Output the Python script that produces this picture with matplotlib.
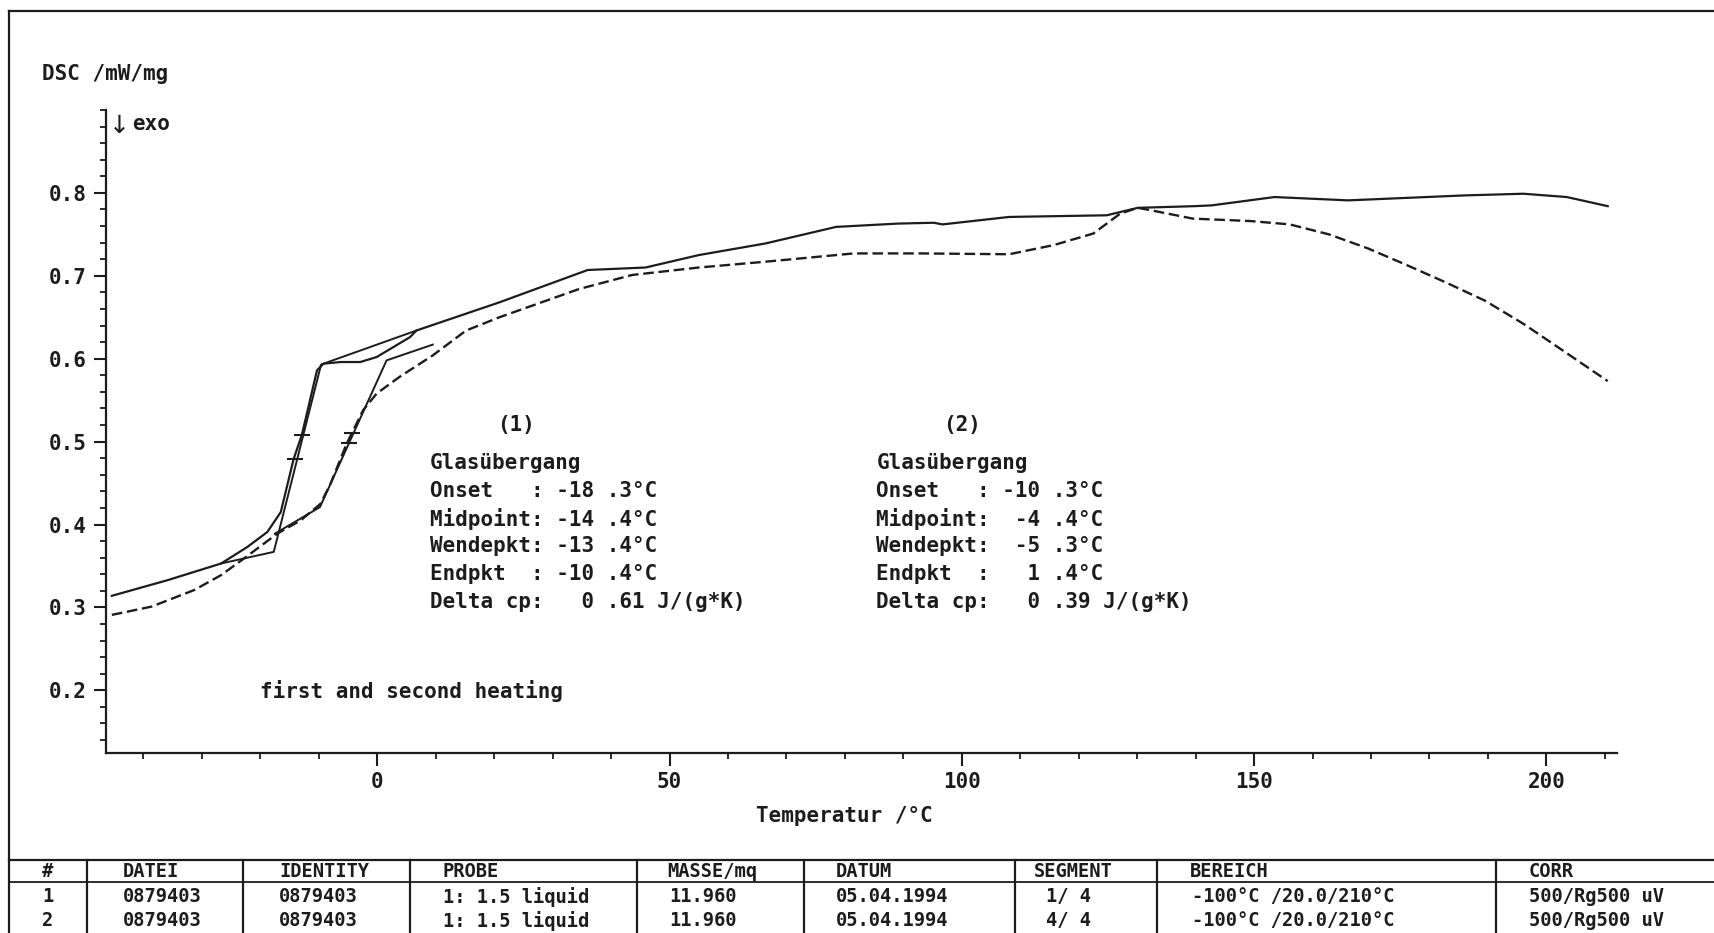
import matplotlib
matplotlib.use("Agg")
import matplotlib.pyplot as plt
from matplotlib.lines import Line2D
from matplotlib.ticker import MultipleLocator, FormatStrFormatter


# first heating (solid)
HEAT1_T = [-45.4, -35.8, -26.7, -22.2, -18.8, -16.5, -14.3, -12.9, -10.3, -9.2,
           -6.3, -2.9, -0.1, 5.6, 6.7, 20.9, 36.0, 45.9, 55.0, 66.4, 78.5,
           89.1, 95.2, 96.7, 108.1, 124.8, 130.1, 139.8, 142.8, 153.5, 166.1,
           186.1, 196.1, 203.5, 210.5]
HEAT1_DSC = [0.314, 0.333, 0.353, 0.373, 0.391, 0.415, 0.479, 0.508, 0.586, 0.594,
             0.596, 0.596, 0.602, 0.626, 0.634, 0.668, 0.707, 0.710, 0.725, 0.739,
             0.759, 0.763, 0.764, 0.762, 0.771, 0.773, 0.782, 0.784, 0.785, 0.795,
             0.791, 0.797, 0.799, 0.795, 0.784]

# second heating (dashed)
HEAT2_T = [-45.4, -38.6, -31.3, -26.7, -22.8, -17.1, -13.1, -9.7, -8.0, -5.2,
           -2.4, -0.1, 3.8, 9.5, 15.2, 20.9, 34.5, 43.6, 55.0, 66.4, 81.5,
           93.0, 108.1, 115.7, 122.5, 127.1, 130.1, 132.4, 139.5, 149.5, 156.1,
           162.8, 169.5, 176.1, 182.8, 189.5, 196.1, 202.8, 210.5]
HEAT2_DSC = [0.291, 0.301, 0.321, 0.339, 0.359, 0.389, 0.405, 0.425, 0.449, 0.498,
             0.538, 0.558, 0.578, 0.604, 0.634, 0.650, 0.684, 0.701, 0.710, 0.717,
             0.727, 0.727, 0.726, 0.737, 0.751, 0.775, 0.782, 0.779, 0.769, 0.766,
             0.762, 0.750, 0.733, 0.713, 0.692, 0.670, 0.642, 0.610, 0.573]

# glass transition construction lines
TAN1_T = [-26.7, -17.7, -9.6, 6.7]
TAN1_DSC = [0.353, 0.367, 0.593, 0.634]
TAN2_T = [-17.5, -9.8, 1.6, 9.5]
TAN2_DSC = [0.389, 0.421, 0.598, 0.617]

# midpoint / inflection marks
MARK_T = [-12.9, -14.0, -4.4, -4.8]
MARK_DSC = [0.508, 0.479, 0.510, 0.498]

RESULT1 = ["Glasübergang",
           "Onset   : -18 .3°C",
           "Midpoint: -14 .4°C",
           "Wendepkt: -13 .4°C",
           "Endpkt  : -10 .4°C",
           "Delta cp:   0 .61 J/(g*K)"]
RESULT2 = ["Glasübergang",
           "Onset   : -10 .3°C",
           "Midpoint:  -4 .4°C",
           "Wendepkt:  -5 .3°C",
           "Endpkt  :   1 .4°C",
           "Delta cp:   0 .39 J/(g*K)"]

HEADER = ["#", "DATEI", "IDENTITY", "PROBE", "MASSE/mq", "DATUM",
          "SEGMENT", "BEREICH", "CORR"]
ROW1 = ["1", "0879403", "0879403", "1: 1.5 liquid", "11.960", "05.04.1994",
        "1/ 4", "-100°C /20.0/210°C", "500/Rg500 uV"]
ROW2 = ["2", "0879403", "0879403", "1: 1.5 liquid", "11.960", "05.04.1994",
        "4/ 4", "-100°C /20.0/210°C", "500/Rg500 uV"]

# layout (figure pixels, 1715 x 933)
W, H = 1715, 933
COL_LINES = [87.5, 242.8, 410, 636.5, 804, 1015, 1157, 1496]
HEAD_X = [48, 122.5, 279, 443, 667, 835.6, 1033.5, 1190, 1529]
ROW_X = [48, 122.5, 279, 443, 669, 835.6, 1046, 1192, 1529]

INK = "#1c1c1c"
FONT = "DejaVu Sans Mono"
TXT = dict(fontsize=15, color=INK, fontweight="bold")


def fx(px):
    return px / W


def fy(py):
    return 1 - py / H


def hline(fig, y, x0=9, x1=W, lw=1.6):
    fig.add_artist(Line2D([fx(x0), fx(x1)], [fy(y), fy(y)],
                          transform=fig.transFigure, color=INK, lw=lw))


def vline(fig, x, y0, y1=H, lw=1.6):
    fig.add_artist(Line2D([fx(x), fx(x)], [fy(y0), fy(y1)],
                          transform=fig.transFigure, color=INK, lw=lw))


def main():
    plt.rcParams["font.family"] = [FONT, "DejaVu Sans"]
    fig = plt.figure(figsize=(W / 100, H / 100), dpi=100)
    ax = fig.add_axes([fx(106), fy(752.5), fx(1616.5) - fx(106),
                       fy(110) - fy(752.5)])

    ax.plot(HEAT1_T, HEAT1_DSC, color=INK, lw=1.6)
    ax.plot(HEAT2_T, HEAT2_DSC, color=INK, lw=1.7, dashes=(4.5, 2))
    ax.plot(TAN1_T, TAN1_DSC, color=INK, lw=1.4)
    ax.plot(TAN2_T, TAN2_DSC, color=INK, lw=1.4)
    ax.plot(MARK_T, MARK_DSC, ls="none", marker="_", ms=12, mew=1.5, color=INK)

    ax.set_xlim(-46.4, 212)
    ax.set_ylim(0.125, 0.9)
    ax.set_xticks([0, 50, 100, 150, 200])
    ax.xaxis.set_minor_locator(MultipleLocator(10))
    ax.set_yticks([0.2, 0.3, 0.4, 0.5, 0.6, 0.7, 0.8])
    ax.yaxis.set_minor_locator(MultipleLocator(0.02))
    ax.yaxis.set_major_formatter(FormatStrFormatter("%.1f"))
    for s in ("top", "right"):
        ax.spines[s].set_visible(False)
    for s in ("left", "bottom"):
        ax.spines[s].set_linewidth(1.6)
        ax.spines[s].set_color(INK)
    ax.tick_params(which="major", length=9, width=1.5, color=INK,
                   labelsize=15, labelcolor=INK, pad=5)
    ax.tick_params(which="minor", length=4.5, width=1.3, color=INK)
    for lab in ax.get_xticklabels() + ax.get_yticklabels():
        lab.set_fontweight("bold")

    ax.text(23.7, 0.520, "(1)", ha="center", va="center", **TXT)
    ax.text(100, 0.520, "(2)", ha="center", va="center", **TXT)
    for i, (a, b) in enumerate(zip(RESULT1, RESULT2)):
        y = 0.474 - i * 0.0334
        ax.text(9.0, y, a, va="center", **TXT)
        ax.text(85.4, y, b, va="center", **TXT)
    ax.text(-20.0, 0.199, "first and second heating", va="center", **TXT)

    fig.text(fx(42), fy(74), "DSC /mW/mg", va="center", **TXT)
    fig.text(fx(119), fy(126), "↓", ha="center", va="center", fontsize=18,
             color=INK, family="DejaVu Sans")
    fig.text(fx(132), fy(124), "exo", va="center", **TXT)
    fig.text(fx(844), fy(816), "Temperatur /°C", ha="center", va="center", **TXT)

    # outer frame and table
    hline(fig, 11)
    vline(fig, 9, 11)
    hline(fig, 859.6)
    hline(fig, 881.5, lw=1.3)
    for x in COL_LINES:
        vline(fig, x, 859.6)
    for row, xs, y in ((HEADER, HEAD_X, 871.7), (ROW1, ROW_X, 896.8),
                       (ROW2, ROW_X, 920.9)):
        for j, (txt, x) in enumerate(zip(row, xs)):
            fig.text(fx(x), fy(y), txt, ha="center" if j == 0 else "left",
                     va="center", fontsize=13.5, color=INK, fontweight="bold")

    fig.savefig("out.png", dpi=100, facecolor="white")


if __name__ == '__main__':
    main()
